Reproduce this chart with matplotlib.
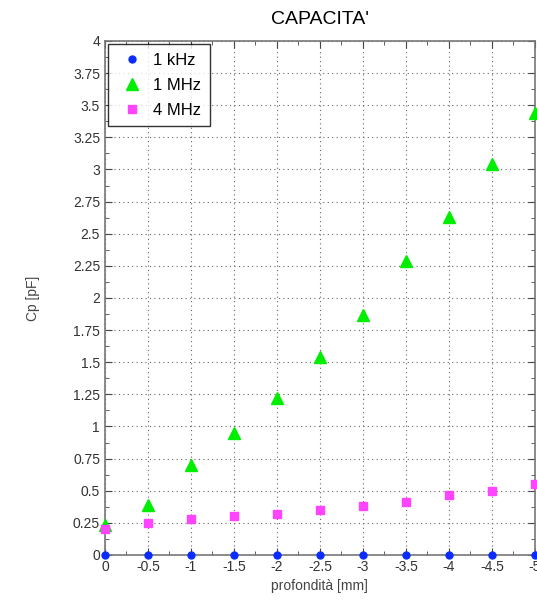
import numpy as np
import matplotlib
matplotlib.use('Agg')
import matplotlib.pyplot as plt
from matplotlib.ticker import MultipleLocator, FormatStrFormatter

plt.rcParams['font.family'] = ['Liberation Sans', 'DejaVu Sans']
plt.rcParams['axes.unicode_minus'] = False

# profondita' [mm] and Cp [pF] at each frequency
depth = [0, -0.5, -1, -1.5, -2, -2.5, -3, -3.5, -4, -4.5, -5]
cp_1khz = [0, 0, 0, 0, 0, 0, 0, 0, 0, 0, 0]
cp_1mhz = [0.23, 0.39, 0.70, 0.95, 1.22, 1.54, 1.87, 2.29, 2.63, 3.04, 3.44]
cp_4mhz = [0.20, 0.25, 0.28, 0.30, 0.32, 0.35, 0.38, 0.41, 0.47, 0.50, 0.55]

fig = plt.figure(figsize=(5.37, 6.08), dpi=100)
ax = fig.add_axes([0.1955, 0.0872, 0.8005, 0.8454])

ax.plot(depth, cp_1khz, 'o', color='#0a2cff', markersize=5, label='1 kHz', clip_on=False, zorder=5)
ax.plot(depth, cp_1mhz, '^', color='#00ee00', markersize=8.5, label='1 MHz', clip_on=False, zorder=5)
ax.plot(depth, cp_4mhz, 's', color='#ff44ff', markersize=6, label='4 MHz', clip_on=False, zorder=5)

ax.set_xlim(0, -5)
ax.set_ylim(0, 4)
ax.xaxis.set_major_locator(MultipleLocator(0.5))
ax.xaxis.set_minor_locator(MultipleLocator(0.25))
ax.yaxis.set_major_locator(MultipleLocator(0.25))
ax.yaxis.set_minor_locator(MultipleLocator(0.125))
ax.xaxis.set_major_formatter(FormatStrFormatter('%g'))
ax.yaxis.set_major_formatter(FormatStrFormatter('%g'))

ax.tick_params(which='both', direction='in', top=True, right=True, colors='#444444',
               labelcolor='#333333', labelsize=10)
ax.tick_params(which='major', length=5)
ax.tick_params(which='minor', length=3)
for s in ax.spines.values():
    s.set_color('#777777')
    s.set_linewidth(1.2)

ax.grid(True, which='major', linestyle=(0, (1, 3)), color='#666666', linewidth=0.8)

ax.set_title("CAPACITA'", fontsize=14, pad=12)
ax.set_xlabel('profondità [mm]', fontsize=10, color='#444444')
ax.set_ylabel('Cp [pF]', fontsize=10, color='#444444', labelpad=24)

leg = ax.legend(loc='upper left', fontsize=12, frameon=True, fancybox=False,
                edgecolor='black', borderaxespad=0.2, handletextpad=0.4,
                handlelength=1.8, labelspacing=0.6, borderpad=0.5)
leg.get_frame().set_linewidth(1.0)

fig.savefig('out.png', dpi=100)
